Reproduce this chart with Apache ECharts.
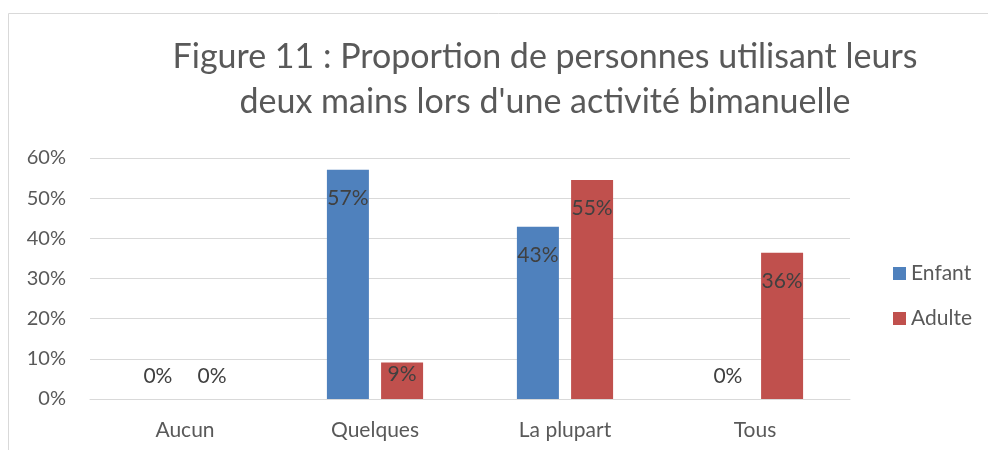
<!DOCTYPE html>
<html>
<head>
<meta charset="utf-8">
<script src="https://cdn.jsdelivr.net/npm/echarts@6/dist/echarts.min.js"></script>
<style>
  html, body { margin: 0; padding: 0; background: #fff; }
  #main { width: 988px; height: 450px; }
</style>
</head>
<body>
<div id="main"></div>
<script>
// categories and values (in %)
var categories = ['Aucun', 'Quelques', 'La plupart', 'Tous'];
var enfant = [0, 57.1, 42.9, 0];
var adulte = [0, 9.1, 54.5, 36.4];
var yTicks = [0, 10, 20, 30, 40, 50, 60];

var FONT = 'Lato';

function labelItems(values) {
  // zero values: label above the baseline; short bars: label hugs the top
  return values.map(function (v) {
    if (v === 0) {
      return { value: v, label: { position: 'top', distance: 12 } };
    }
    if (v < 15) {
      return { value: v, label: { distance: 1 } };
    }
    return v;
  });
}

var chartDom = document.getElementById('main');
var myChart = echarts.init(chartDom);

var barLabel = {
  show: true,
  position: 'insideTop',
  distance: 18,
  color: '#404040',
  fontFamily: FONT,
  fontSize: 21,
  formatter: function (p) { return Math.round(p.value) + '%'; }
};

var option = {
  animation: false,
  textStyle: { fontFamily: FONT },
  title: {
    text: 'Figure 11 : Proportion de personnes utilisant leurs\ndeux mains lors d\'une activité bimanuelle',
    left: 540,
    top: 30,
    textAlign: 'center',
    textStyle: {
      fontFamily: FONT,
      fontSize: 34,
      fontWeight: 'normal',
      color: '#595959',
      lineHeight: 45
    }
  },
  graphic: [{
    type: 'rect',
    shape: { x: 8.5, y: 13.5, width: 1000, height: 500 },
    style: { fill: 'none', stroke: '#d9d9d9', lineWidth: 1 },
    silent: true
  }],
  legend: {
    orient: 'vertical',
    left: 893,
    top: 263,
    padding: 0,
    itemWidth: 13,
    itemHeight: 13,
    itemGap: 24,
    icon: 'rect',
    textStyle: { fontFamily: FONT, fontSize: 21, lineHeight: 21, color: '#595959' },
    data: ['Enfant', 'Adulte']
  },
  grid: {
    left: 90,
    top: 158,
    width: 760,
    height: 241,
    containLabel: false
  },
  xAxis: {
    type: 'category',
    data: categories,
    axisLine: { show: true, lineStyle: { color: '#d9d9d9', width: 1 } },
    axisTick: { show: false },
    axisLabel: { color: '#595959', fontSize: 21, fontFamily: FONT, margin: 21 }
  },
  yAxis: {
    type: 'value',
    min: yTicks[0],
    max: yTicks[yTicks.length - 1],
    interval: 10,
    axisLine: { show: false },
    axisTick: { show: false },
    axisLabel: { color: '#595959', fontSize: 20, fontFamily: FONT, margin: 24, formatter: '{value}%' },
    splitLine: { lineStyle: { color: '#d9d9d9', width: 1 } }
  },
  series: [
    {
      name: 'Enfant',
      type: 'bar',
      data: labelItems(enfant),
      barWidth: 42,
      barGap: '29%',
      itemStyle: { color: '#4F81BD' },
      label: barLabel
    },
    {
      name: 'Adulte',
      type: 'bar',
      data: labelItems(adulte),
      barWidth: 42,
      barGap: '29%',
      itemStyle: { color: '#C0504D' },
      label: barLabel
    }
  ]
};

myChart.setOption(option);
</script>
</body>
</html>
